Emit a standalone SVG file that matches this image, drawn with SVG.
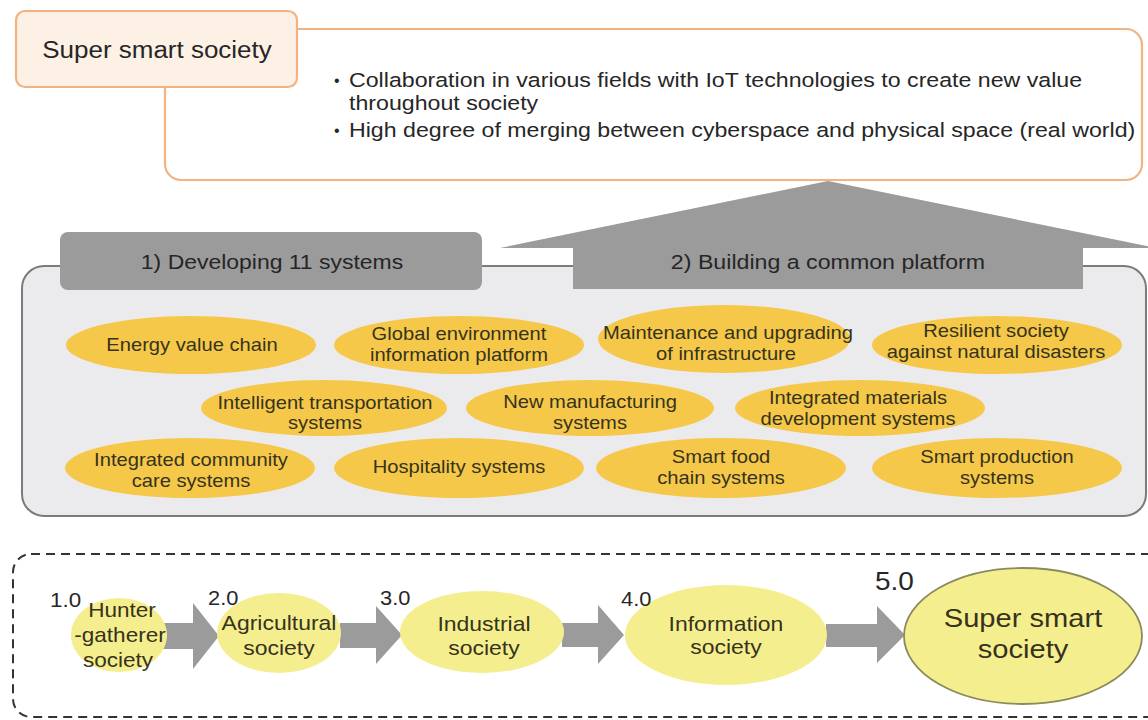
<svg xmlns="http://www.w3.org/2000/svg" width="1148" height="720" viewBox="0 0 1148 720">
  <style>
    .t { font-family: "Liberation Sans", Arial, Helvetica, sans-serif; fill: #262626; }
    .et { font-family: "Liberation Sans", Arial, Helvetica, sans-serif; fill: #35331c; font-size: 18px; text-anchor: middle; }
    .tl { font-family: "Liberation Sans", Arial, Helvetica, sans-serif; fill: #35331c; font-size: 20.5px; text-anchor: middle; }
    .ver { font-family: "Liberation Sans", Arial, Helvetica, sans-serif; fill: #262626; font-size: 19.5px; }
    .sys { fill: #f6c84a; }
    .era { fill: #f5ee8e; }
    .gray { fill: #9b9b9b; }
  </style>
  <rect width="1148" height="720" fill="#ffffff"/>

  <!-- Top description -->
  <g id="description">
    <rect x="165" y="29" width="977" height="151" rx="16" fill="#ffffff" stroke="#f2b382" stroke-width="2.2"/>
    <text class="t" font-size="16" x="334" y="86">•</text>
    <text class="t" font-size="16" x="334" y="136">•</text>
    <text class="t" font-size="20.5" transform="translate(349,87) scale(1.13,1)">Collaboration in various fields with IoT technologies to create new value</text>
    <text class="t" font-size="20.5" transform="translate(349,110) scale(1.13,1)">throughout society</text>
    <text class="t" font-size="20.5" transform="translate(349,137) scale(1.13,1)">High degree of merging between cyberspace and physical space (real world)</text>
  </g>
  <g id="title">
    <rect x="16" y="11" width="281" height="76" rx="9" fill="#fdf0e5" stroke="#f2b382" stroke-width="2.2"/>
    <text class="t" font-size="23" text-anchor="middle" transform="translate(157,58) scale(1.13,1)">Super smart society</text>
  </g>

  <!-- Systems container -->
  <g id="systems-panel">
    <rect x="22" y="266" width="1124" height="250" rx="22" fill="#ebebee" stroke="#7c7c7c" stroke-width="2"/>
  </g>

  <g id="connectors">
    <polygon class="gray" points="500,248 828,181 1156,248 1083,248 1083,289 573,289 573,248"/>
    <polygon class="gray" points="163,623 193,623 193,603 219,636 193,669 193,649 163,649"/>
    <polygon class="gray" points="340,623 376,623 376,606 402,635 376,664 376,648 340,648"/>
    <polygon class="gray" points="562,623 598,623 598,605 624,635 598,664 598,647 562,647"/>
    <polygon class="gray" points="826,624 877,624 877,606 905,635 877,663 877,647 826,647"/>
  </g>

  <g id="header-systems">
    <rect x="60" y="232" width="422" height="58" rx="8" fill="#9b9b9b"/>
    <text class="t" font-size="20.5" text-anchor="middle" transform="translate(272,269) scale(1.12,1)">1) Developing 11 systems</text>
  </g>
  <g id="header-platform">
    <text class="t" font-size="20.7" text-anchor="middle" transform="translate(828,269) scale(1.12,1)">2) Building a common platform</text>
  </g>

  <!-- Row 1 -->
  <g id="energy">
    <ellipse class="sys" cx="191" cy="345" rx="125" ry="29"/>
    <text class="et" transform="translate(192,351) scale(1.12,1)">Energy value chain</text>
  </g>
  <g id="global-env">
    <ellipse class="sys" cx="459" cy="345" rx="125" ry="29"/>
    <text class="et" transform="translate(459,340) scale(1.12,1)">Global environment</text>
    <text class="et" transform="translate(459,361) scale(1.12,1)">information platform</text>
  </g>
  <g id="maintenance">
    <ellipse class="sys" cx="724" cy="339" rx="126" ry="34"/>
    <text class="et" transform="translate(728,339) scale(1.12,1)">Maintenance and upgrading</text>
    <text class="et" transform="translate(726,360) scale(1.12,1)">of infrastructure</text>
  </g>
  <g id="resilient">
    <ellipse class="sys" cx="997" cy="345" rx="125" ry="29"/>
    <text class="et" transform="translate(996,337) scale(1.12,1)">Resilient society</text>
    <text class="et" transform="translate(996,358) scale(1.12,1)">against natural disasters</text>
  </g>

  <!-- Row 2 -->
  <g id="transport">
    <ellipse class="sys" cx="324" cy="408" rx="123" ry="28"/>
    <text class="et" transform="translate(325,409) scale(1.12,1)">Intelligent transportation</text>
    <text class="et" transform="translate(325,429) scale(1.12,1)">systems</text>
  </g>
  <g id="manufacturing">
    <ellipse class="sys" cx="590" cy="408" rx="124" ry="28"/>
    <text class="et" transform="translate(590,408) scale(1.12,1)">New manufacturing</text>
    <text class="et" transform="translate(590,429) scale(1.12,1)">systems</text>
  </g>
  <g id="materials">
    <ellipse class="sys" cx="860" cy="408" rx="125" ry="28"/>
    <text class="et" transform="translate(858,404) scale(1.12,1)">Integrated materials</text>
    <text class="et" transform="translate(858,425) scale(1.12,1)">development systems</text>
  </g>

  <!-- Row 3 -->
  <g id="community-care">
    <ellipse class="sys" cx="190" cy="468" rx="125" ry="30"/>
    <text class="et" transform="translate(191,466) scale(1.12,1)">Integrated community</text>
    <text class="et" transform="translate(191,487) scale(1.12,1)">care systems</text>
  </g>
  <g id="hospitality">
    <ellipse class="sys" cx="459" cy="468" rx="125" ry="30"/>
    <text class="et" transform="translate(459,473) scale(1.12,1)">Hospitality systems</text>
  </g>
  <g id="food-chain">
    <ellipse class="sys" cx="721" cy="468" rx="125" ry="30"/>
    <text class="et" transform="translate(721,463) scale(1.12,1)">Smart food</text>
    <text class="et" transform="translate(721,484) scale(1.12,1)">chain systems</text>
  </g>
  <g id="production">
    <ellipse class="sys" cx="997" cy="468" rx="125" ry="30"/>
    <text class="et" transform="translate(997,463) scale(1.12,1)">Smart production</text>
    <text class="et" transform="translate(997,484) scale(1.12,1)">systems</text>
  </g>

  <!-- Timeline -->
  <g id="timeline-frame">
    <rect x="13" y="554" width="1165" height="163" rx="18" fill="none" stroke="#333333" stroke-width="2" stroke-dasharray="9 6"/>
  </g>

  <g id="society-1">
    <ellipse class="era" cx="119" cy="635" rx="48" ry="37"/>
    <text class="ver" style="font-size:20px" transform="translate(50,607) scale(1.12,1)">1.0</text>
    <text class="tl" transform="translate(122,617) scale(1.1,1)">Hunter</text>
    <text class="tl" transform="translate(120,642) scale(1.1,1)">-gatherer</text>
    <text class="tl" transform="translate(118,667) scale(1.1,1)">society</text>
  </g>
  <g id="society-2">
    <ellipse class="era" cx="279" cy="633" rx="62" ry="40"/>
    <text class="ver" transform="translate(208,605) scale(1.12,1)">2.0</text>
    <text class="tl" transform="translate(279,630) scale(1.12,1)">Agricultural</text>
    <text class="tl" transform="translate(279,655) scale(1.12,1)">society</text>
  </g>
  <g id="society-3">
    <ellipse class="era" cx="482" cy="632" rx="82" ry="41"/>
    <text class="ver" transform="translate(380,605) scale(1.12,1)">3.0</text>
    <text class="tl" transform="translate(484,631) scale(1.12,1)">Industrial</text>
    <text class="tl" transform="translate(484,655) scale(1.12,1)">society</text>
  </g>
  <g id="society-4">
    <ellipse class="era" cx="726" cy="635" rx="101" ry="50"/>
    <text class="ver" transform="translate(621,606) scale(1.12,1)">4.0</text>
    <text class="tl" transform="translate(726,631) scale(1.12,1)">Information</text>
    <text class="tl" transform="translate(726,654) scale(1.12,1)">society</text>
  </g>
  <g id="society-5">
    <ellipse class="era" cx="1023" cy="636" rx="119" ry="68" stroke="#8a8a5c" stroke-width="1.8"/>
    <text class="ver" style="font-size:25px" transform="translate(875,590) scale(1.12,1)">5.0</text>
    <text class="tl" style="font-size:26px" transform="translate(1023,627) scale(1.12,1)">Super smart</text>
    <text class="tl" style="font-size:26px" transform="translate(1023,658) scale(1.12,1)">society</text>
  </g>
</svg>
